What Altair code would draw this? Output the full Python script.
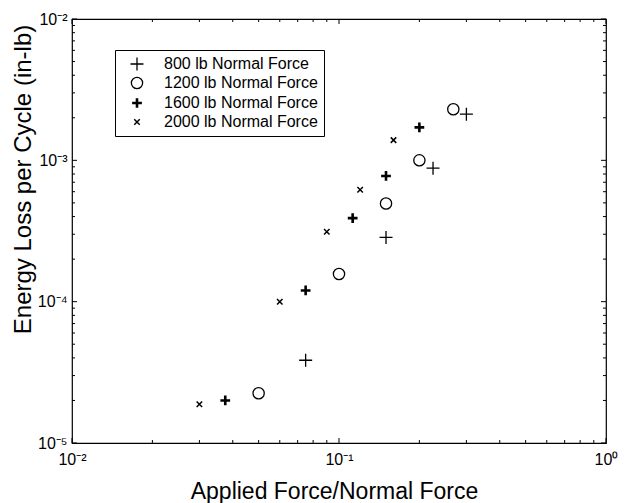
import altair as alt
import pandas as pd

# ---- data ----
series = ["800 lb Normal Force", "1200 lb Normal Force",
          "1600 lb Normal Force", "2000 lb Normal Force"]

x_800 = [0.075, 0.15, 0.225, 0.30]
y_800 = [3.85e-5, 2.85e-4, 8.8e-4, 2.12e-3]

x_1200 = [0.05, 0.10, 0.15, 0.20, 0.268]
y_1200 = [2.25e-5, 1.57e-4, 4.95e-4, 1.0e-3, 2.3e-3]

x_1600 = [0.0375, 0.075, 0.1125, 0.15, 0.20]
y_1600 = [2.0e-5, 1.2e-4, 3.9e-4, 7.75e-4, 1.71e-3]

x_2000 = [0.03, 0.06, 0.09, 0.12, 0.16]
y_2000 = [1.88e-5, 1.0e-4, 3.12e-4, 6.2e-4, 1.39e-3]

x_major = [0.01, 0.1, 1.0]
x_minor = [m * d for d in (0.01, 0.1) for m in range(2, 10)]
y_major = [1e-5, 1e-4, 1e-3, 1e-2]
y_minor = [m * d for d in (1e-5, 1e-4, 1e-3) for m in range(2, 10)]

# ---- styling ----
W, H = 534, 424
FONT = "Liberation Sans"

PLUS = "M-1,0L1,0M0,-1L0,1"
CROSS = "M-1,-1L1,1M-1,1L1,-1"
shape_range = [PLUS, "circle", PLUS, CROSS]
size_range = [169, 127, 95, 30]
sw_range = [1.3, 1.3, 2.6, 1.5]

rows = []
for name, xs, ys in zip(series, [x_800, x_1200, x_1600, x_2000],
                        [y_800, y_1200, y_1600, y_2000]):
    for a, b in zip(xs, ys):
        rows.append({"ratio": a, "energy": b, "load": name})
df = pd.DataFrame(rows)

xscale = alt.Scale(type="log", domain=[0.01, 1], nice=False)
yscale = alt.Scale(type="log", domain=[1e-5, 1e-2], nice=False)

x_label = "'10' + (datum.value < 0.05 ? '⁻²' : datum.value < 0.5 ? '⁻¹' : '⁰')"
y_label = ("'10' + (datum.value < 5e-5 ? '⁻⁵' : datum.value < 5e-4 ? '⁻⁴' : "
           "datum.value < 5e-3 ? '⁻³' : '⁻²')")

xaxis = alt.Axis(values=x_major, labelExpr=x_label, ticks=False, domain=False,
                 grid=False, labelPadding=8, labelFont=FONT, labelFontSize=16,
                 labelColor="black", labelFlush=False,
                 title="Applied Force/Normal Force", titleFont=FONT,
                 titleFontSize=23, titleFontWeight="normal", titleColor="black",
                 titleX=262, titleY=55, titleBaseline="alphabetic")
yaxis = alt.Axis(values=y_major, labelExpr=y_label, ticks=False, domain=False,
                 grid=False, labelPadding=5, labelFont=FONT, labelFontSize=16,
                 labelColor="black", labelFlush=False,
                 title="Energy Loss per Cycle (in-lb)", titleFont=FONT,
                 titleFontSize=24, titleFontWeight="normal", titleColor="black",
                 titleX=-42, titleY=160, titleAngle=-90,
                 titleBaseline="alphabetic", titleAlign="center")

legend = alt.Legend(
    title=None, orient="none", legendX=43, legendY=31,
    strokeColor="black", fillColor="white", padding=6,
    symbolOffset=8, labelOffset=19, rowPadding=0,
    labelFont=FONT, labelFontSize=16, labelColor="black",
    labelExpr="datum.label + '\u00a0\u00a0\u00a0'",
    symbolStrokeColor="black", symbolFillColor="transparent",
)

sort = series
points = alt.Chart(df).mark_point(filled=False, opacity=1, color="black").encode(
    x=alt.X("ratio:Q", scale=xscale, axis=xaxis),
    y=alt.Y("energy:Q", scale=yscale, axis=yaxis),
    shape=alt.Shape("load:N", sort=sort,
                    scale=alt.Scale(type="ordinal", domain=series, range=shape_range),
                    legend=legend),
    size=alt.Size("load:N", sort=sort,
                  scale=alt.Scale(type="ordinal", domain=series, range=size_range),
                  legend=legend),
    strokeWidth=alt.StrokeWidth("load:N", sort=sort,
                                scale=alt.Scale(type="ordinal", domain=series, range=sw_range),
                                legend=legend),
)

def xticks(vals, length):
    d = pd.DataFrame({"ratio": vals})
    base = alt.Chart(d).mark_rule(color="black", strokeWidth=1)
    bottom = base.encode(x=alt.X("ratio:Q", scale=xscale, axis=xaxis),
                         y=alt.value(H), y2=alt.value(H - length))
    top = base.encode(x=alt.X("ratio:Q", scale=xscale, axis=xaxis),
                      y=alt.value(0), y2=alt.value(length))
    return [bottom, top]

def yticks(vals, length):
    d = pd.DataFrame({"energy": vals})
    base = alt.Chart(d).mark_rule(color="black", strokeWidth=1)
    left = base.encode(y=alt.Y("energy:Q", scale=yscale, axis=yaxis),
                       x=alt.value(0), x2=alt.value(length))
    right = base.encode(y=alt.Y("energy:Q", scale=yscale, axis=yaxis),
                        x=alt.value(W), x2=alt.value(W - length))
    return [left, right]

layers = [points] + (xticks(x_major, 5) + xticks(x_minor, 3) +
                     yticks(y_major, 5) + yticks(y_minor, 3))

chart = alt.layer(*layers).properties(
    width=W, height=H,
    autosize=alt.AutoSizeParams(type="none"),
    padding={"left": 72, "top": 19, "right": 20, "bottom": 60},
    background="white",
).configure_view(stroke="black", strokeWidth=1.2)

chart.save("out.html", embed_options={"renderer": "svg", "actions": False})
